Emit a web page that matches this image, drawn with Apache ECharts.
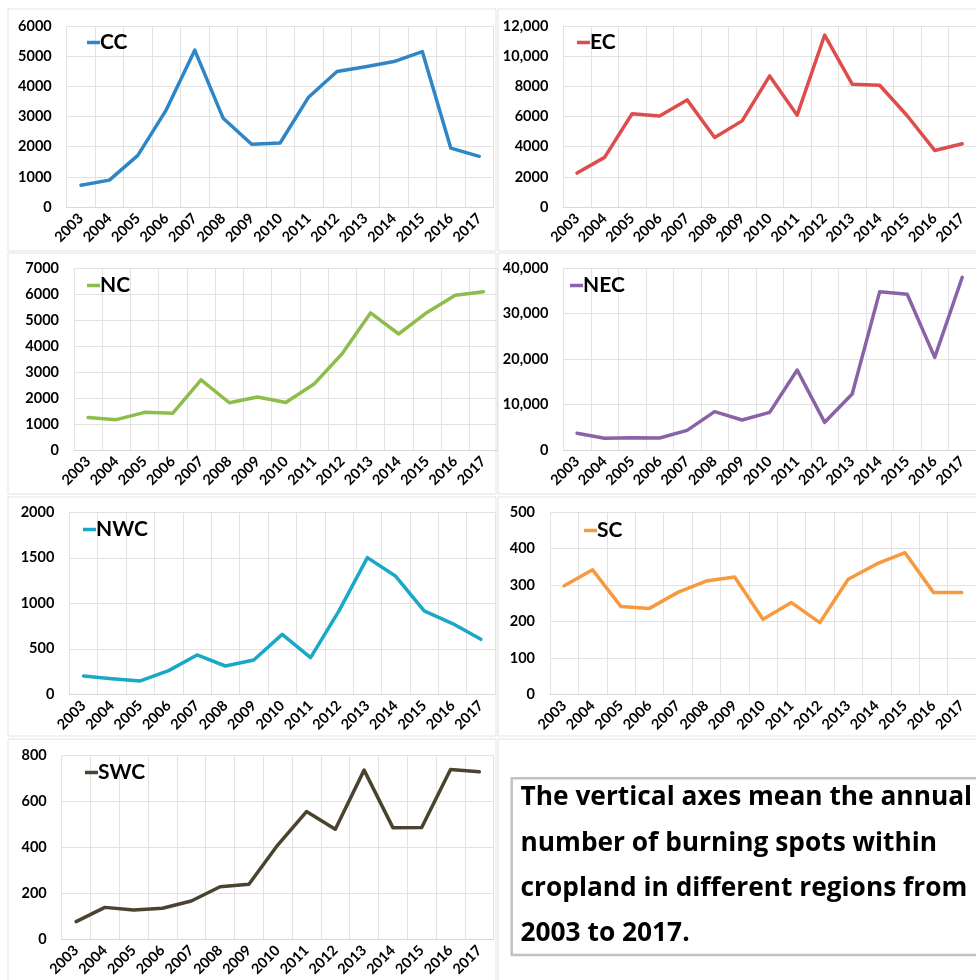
<!DOCTYPE html>
<html>
<head>
<meta charset="utf-8">
<script src="https://cdn.jsdelivr.net/npm/echarts@6/dist/echarts.min.js"></script>
<style>
  html, body { margin: 0; padding: 0; background: #fff; }
  #chart { width: 976px; height: 980px; }
</style>
</head>
<body>
<div id="chart"></div>
<script>
// Annual burning spots within cropland, by region, 2003-2017
const years = ['2003','2004','2005','2006','2007','2008','2009','2010','2011','2012','2013','2014','2015','2016','2017'];

const cc  = [720, 890, 1710, 3220, 5200, 2940, 2080, 2120, 3640, 4490, 4650, 4820, 5150, 1950, 1680];
const ec  = [2250, 3290, 6180, 6040, 7100, 4610, 5710, 8690, 6090, 11400, 8140, 8070, 6050, 3750, 4190];
const nc  = [1250, 1170, 1450, 1420, 2700, 1820, 2040, 1830, 2540, 3720, 5280, 4470, 5300, 5960, 6100];
const nec = [3670, 2570, 2720, 2640, 4330, 8440, 6610, 8290, 17610, 6090, 12330, 34860, 34280, 20400, 38020];
const nwc = [201, 172, 147, 260, 432, 311, 377, 659, 403, 916, 1502, 1297, 916, 777, 604];
const sc  = [298, 342, 241, 236, 280, 311, 322, 206, 252, 197, 316, 358, 389, 280, 280];
const swc = [76, 138, 127, 134, 166, 228, 239, 410, 556, 479, 737, 486, 487, 740, 730];

// y-axis tick values per panel
const ccTicks  = [0, 1000, 2000, 3000, 4000, 5000, 6000];
const ecTicks  = [0, 2000, 4000, 6000, 8000, 10000, 12000];
const ncTicks  = [0, 1000, 2000, 3000, 4000, 5000, 6000, 7000];
const necTicks = [0, 10000, 20000, 30000, 40000];
const nwcTicks = [0, 500, 1000, 1500, 2000];
const scTicks  = [0, 100, 200, 300, 400, 500];
const swcTicks = [0, 200, 400, 600, 800];

const note = [
  'The vertical axes mean the annual',
  'number of burning spots within',
  'cropland in different regions from',
  '2003 to 2017.'
];

const panels = [
  { name: 'CC',  data: cc,  ticks: ccTicks,  color: '#2f86c6', grid: { left: 66.7,  top: 26,    width: 426.8, height: 181 },   legend: [87, 43] },
  { name: 'EC',  data: ec,  ticks: ecTicks,  color: '#de4c4c', grid: { left: 563.3, top: 26,    width: 424.5, height: 181 },   legend: [577, 43] },
  { name: 'NC',  data: nc,  ticks: ncTicks,  color: '#8dbd4b', grid: { left: 74,    top: 268.3, width: 423.6, height: 181.7 }, legend: [87, 286] },
  { name: 'NEC', data: nec, ticks: necTicks, color: '#8963a7', grid: { left: 563.3, top: 268.3, width: 424.5, height: 181.7 }, legend: [570, 286] },
  { name: 'NWC', data: nwc, ticks: nwcTicks, color: '#19a9c7', grid: { left: 69.3,  top: 512.3, width: 425.8, height: 182 },   legend: [83, 530] },
  { name: 'SC',  data: sc,  ticks: scTicks,  color: '#f79a3e', grid: { left: 550,   top: 512.3, width: 433.2, height: 182 },   legend: [584, 531] },
  { name: 'SWC', data: swc, ticks: swcTicks, color: '#4a4330', grid: { left: 61.7,  top: 755.7, width: 432,   height: 183.3 }, legend: [85, 773] }
];

const labelFont = 'Lato';
const gridColor = '#e2e2e2';

function fmt(v) {
  return v >= 10000 ? v.toLocaleString('en-US') : String(v);
}

const grids = [], xAxes = [], yAxes = [], series = [], legends = [];

panels.forEach((p, i) => {
  grids.push(Object.assign({ containLabel: false }, p.grid));
  xAxes.push({
    type: 'category',
    gridIndex: i,
    data: years,
    boundaryGap: true,
    axisLine: { show: true, lineStyle: { color: '#d9d9d9', width: 1 } },
    axisTick: { show: false },
    splitLine: { show: true, interval: 0, lineStyle: { color: gridColor, width: 1 } },
    axisLabel: {
      interval: 0, rotate: 45, margin: 9,
      fontFamily: labelFont, fontWeight: 'bold', fontSize: 14.5, color: '#000'
    }
  });
  const step = p.ticks[1] - p.ticks[0];
  yAxes.push({
    type: 'value',
    gridIndex: i,
    min: p.ticks[0],
    max: p.ticks[p.ticks.length - 1],
    interval: step,
    axisLine: { show: false },
    axisTick: { show: false },
    splitLine: { show: true, lineStyle: { color: gridColor, width: 1 } },
    axisLabel: {
      margin: 15, formatter: fmt,
      fontFamily: labelFont, fontWeight: 'bold', fontSize: 14.5, color: '#000'
    }
  });
  series.push({
    type: 'line',
    name: p.name,
    xAxisIndex: i,
    yAxisIndex: i,
    data: p.data,
    symbol: 'none',
    color: p.color,
    lineStyle: { color: p.color, width: 3.5, cap: 'round', join: 'round' },
    animation: false
  });
  legends.push({
    data: [p.name],
    left: p.legend[0],
    top: p.legend[1] - 11,
    padding: 0,
    icon: 'rect',
    itemWidth: 13,
    itemHeight: 3.5,
    selectedMode: false,
    textStyle: {
      fontFamily: labelFont, fontWeight: 'bold', fontSize: 21, color: '#000',
      padding: [0, 0, 0, -5]
    }
  });
});

// faint frames around each small chart
const frameColor = '#e4e4e4';
const frames = [
  [8, 9, 488, 242], [498, 9, 490, 242],
  [8, 253, 488, 241], [498, 253, 490, 241],
  [8, 497, 488, 239], [498, 497, 490, 239],
  [8, 739, 488, 250], [498, 739, 490, 250]
].map(r => ({
  type: 'rect', silent: true, z: -10,
  shape: { x: r[0], y: r[1], width: r[2], height: r[3] },
  style: { fill: null, stroke: frameColor, lineWidth: 1 }
}));

const noteBox = [
  {
    type: 'rect', silent: true,
    shape: { x: 511.7, y: 778.3, width: 480, height: 176.7 },
    style: { fill: '#fff', stroke: '#c2c2c2', lineWidth: 2.5 }
  },
  {
    type: 'text', silent: true,
    x: 520.5, y: 775,
    style: {
      text: note.join('\n'),
      fontFamily: 'Open Sans', fontWeight: 'bold', fontSize: 26.3,
      lineHeight: 45.4, fill: '#000', verticalAlign: 'top', align: 'left'
    }
  }
];

const chart = echarts.init(document.getElementById('chart'), null, { renderer: 'canvas' });
chart.setOption({
  backgroundColor: '#fff',
  animation: false,
  grid: grids,
  xAxis: xAxes,
  yAxis: yAxes,
  series: series,
  legend: legends,
  graphic: frames.concat(noteBox)
});
</script>
</body>
</html>
